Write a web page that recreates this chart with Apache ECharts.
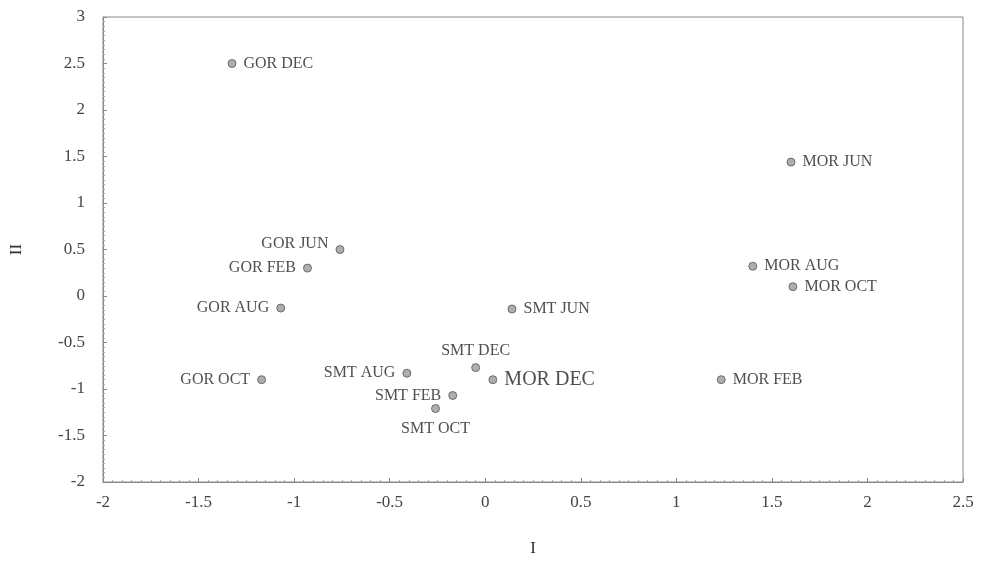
<!DOCTYPE html>
<html>
<head>
<meta charset="utf-8">
<script src="https://cdn.jsdelivr.net/npm/echarts@6/dist/echarts.min.js"></script>
<style>html,body{margin:0;padding:0;background:#fff}#c{width:982px;height:584px}</style>
</head>
<body>
<div id="c"></div>
<script>
const names = ['GOR DEC','MOR JUN','GOR JUN','GOR FEB','MOR AUG','MOR OCT','GOR AUG','SMT JUN','SMT DEC','MOR DEC','SMT AUG','GOR OCT','MOR FEB','SMT FEB','SMT OCT'];
const xs = [-1.325, 1.60, -0.76, -0.93, 1.40, 1.61, -1.07, 0.14, -0.05, 0.04, -0.41, -1.17, 1.235, -0.17, -0.26];
const ys = [2.50, 1.44, 0.50, 0.30, 0.32, 0.10, -0.13, -0.14, -0.77, -0.90, -0.83, -0.90, -0.90, -1.07, -1.21];
const labelPos = ['right','right','left','left','right','right','left','right','top','right','left','left','right','left','bottom'];
const labelSize = [16,16,16,16,16,16,16,16,16,20,16,16,16,16,16];
const xTicks = [-2,-1.5,-1,-0.5,0,0.5,1,1.5,2,2.5];
const yTicks = [-2,-1.5,-1,-0.5,0,0.5,1,1.5,2,2.5,3];

const font = 'Liberation Serif';
const data = names.map((n,i)=>({
  value:[xs[i], ys[i]], name:n,
  label:{show:true, position:labelPos[i], formatter:n, fontSize:labelSize[i],
    distance: labelPos[i]==='top'?4:(labelPos[i]==='bottom'?8:7),
    offset: n==='GOR JUN'?[0,-6]:[0,0]}
}));
const fmt = v => (xTicks.concat(yTicks).indexOf(v) >= 0 ? String(v) : '');
const chart = echarts.init(document.getElementById('c'));
chart.setOption({
  animation:false,
  grid:{left:103, right:19, top:17, bottom:102, show:true, borderColor:'#888', borderWidth:1, backgroundColor:'transparent'},
  xAxis:{type:'value', min:-2, max:2.5, interval:0.5, name:'I', nameLocation:'middle', nameGap:58,
    nameTextStyle:{fontFamily:font, fontSize:17, color:'#333'},
    axisLine:{show:true, onZero:false, lineStyle:{color:'#888', width:1}},
    axisTick:{show:true, inside:true, length:4, lineStyle:{color:'#888'}},
    minorTick:{show:true, splitNumber:10, length:2, lineStyle:{color:'#aaa'}},
    axisLabel:{fontFamily:font, fontSize:17, color:'#444', margin:12, formatter:fmt},
    splitLine:{show:false}},
  yAxis:{type:'value', min:-2, max:3, interval:0.5, name:'II', nameLocation:'middle', nameGap:78, nameRotate:90,
    nameTextStyle:{fontFamily:font, fontSize:17, color:'#333'},
    axisLine:{show:true, onZero:false, lineStyle:{color:'#888', width:1}},
    axisTick:{show:true, inside:true, length:4, lineStyle:{color:'#888'}},
    minorTick:{show:true, splitNumber:10, length:2, lineStyle:{color:'#aaa'}},
    axisLabel:{fontFamily:font, fontSize:17, color:'#444', margin:18, formatter:fmt},
    splitLine:{show:false}},
  series:[{type:'scatter', symbol:'circle', symbolSize:8, data:data,
    itemStyle:{color:'#9a9a9a', borderColor:'#555', borderWidth:1},
    label:{fontFamily:font, color:'#222'}}]
});
</script>
</body>
</html>
